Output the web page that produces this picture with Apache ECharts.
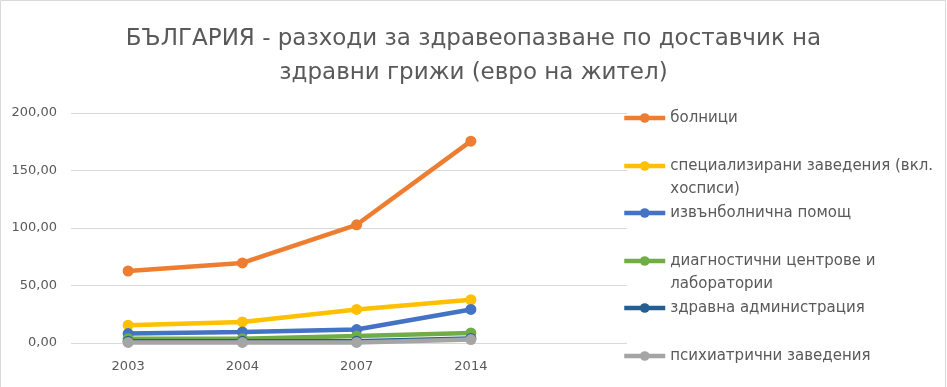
<!DOCTYPE html>
<html><head><meta charset="utf-8">
<script src="https://cdn.jsdelivr.net/npm/echarts@6/dist/echarts.min.js"></script>
<style>html,body{margin:0;padding:0;background:#fff}#c{width:947px;height:387px}</style>
</head><body><div id="c"></div>
<script>
const titleText = 'БЪЛГАРИЯ - разходи за здравеопазване по доставчик на\nздравни грижи (евро на жител)';
const categories = ['2003', '2004', '2007', '2014'];
const seriesNames = ['болници', 'специализирани заведения (вкл. хосписи)', 'извънболнична помощ', 'диагностични центрове и лаборатории', 'здравна администрация', 'психиатрични заведения'];
const hospitals = [62.6, 69.6, 102.8, 175.5];
const specialized = [15.5, 18.3, 29.2, 37.6];
const outpatient = [8.2, 9.6, 11.7, 29.2];
const diagnostic = [3.8, 3.8, 6.0, 8.8];
const administration = [1.5, 1.5, 1.5, 4.0];
const psychiatric = [0.5, 0.5, 0.5, 3.0];
const yTicks = [0, 50, 100, 150, 200];

const values = [hospitals, specialized, outpatient, diagnostic, administration, psychiatric];
const colors = ['#ED7D31', '#FFC000', '#4472C4', '#70AD47', '#255E91', '#A5A5A5'];
const font = 'DejaVu Sans';

function wrap(name) {
  const words = name.split(' ');
  const lines = []; let cur = '';
  for (const w of words) {
    if (cur && (cur + ' ' + w).length > 30) { lines.push(cur); cur = w; }
    else cur = cur ? cur + ' ' + w : w;
  }
  lines.push(cur);
  return lines;
}

const LH = 23;
const legendCenters = [118, 166, 213, 261, 308, 356];
const legends = seriesNames.map((n, i) => {
  const lines = wrap(n);
  const twoLine = lines.length > 1;
  const h = twoLine ? LH * 3 : LH;
  return {
    data: [n], left: 622, top: legendCenters[i] - h / 2,
    itemWidth: 41, itemHeight: 12, itemGap: 0, selectedMode: false, padding: 0,
    lineStyle: { width: 4.5 },
    formatter: () => (twoLine ? '\n' : '') + lines.join('\n'),
    textStyle: { fontFamily: font, fontSize: 15, color: '#595959', lineHeight: LH }
  };
});

const chart = echarts.init(document.getElementById('c'));
chart.setOption({
  animation: false,
  title: { text: titleText, left: 'center', top: 17, textStyle: { fontFamily: font, fontSize: 23, fontWeight: 'normal', color: '#595959', lineHeight: 34 } },
  legend: legends,
  graphic: [{ type: 'rect', shape: { x: 0.5, y: 0.5, width: 945, height: 400 }, style: { fill: null, stroke: '#D9D9D9', lineWidth: 1 }, silent: true }],
  grid: [
    { left: 71, right: 320, top: 113, bottom: 44 },
    { left: 71, width: 457, top: 113, bottom: 44 }
  ],
  xAxis: [
    { gridIndex: 0, type: 'category', data: categories, show: false },
    { gridIndex: 1, type: 'category', data: categories, boundaryGap: true,
      axisLine: { show: false }, axisTick: { show: false },
      axisLabel: { fontFamily: font, fontSize: 13, color: '#595959', margin: 17 } }
  ],
  yAxis: [
    { gridIndex: 0, type: 'value', min: yTicks[0], max: yTicks[yTicks.length - 1], interval: 50,
      axisLine: { show: false }, axisTick: { show: false },
      axisLabel: { fontFamily: font, fontSize: 13, color: '#595959', margin: 14, formatter: v => v.toFixed(2).replace('.', ',') },
      splitLine: { lineStyle: { color: '#D9D9D9', width: 1 } } },
    { gridIndex: 1, type: 'value', min: yTicks[0], max: yTicks[yTicks.length - 1], interval: 50, show: false, splitLine: { show: false } }
  ],
  series: seriesNames.map((n, i) => ({
    name: n, type: 'line', xAxisIndex: 1, yAxisIndex: 1,
    data: values[i], symbol: 'circle', symbolSize: 11,
    lineStyle: { width: 4.5, color: colors[i] }, itemStyle: { color: colors[i] },
    z: 10 + i
  }))
});
</script>
</body></html>
